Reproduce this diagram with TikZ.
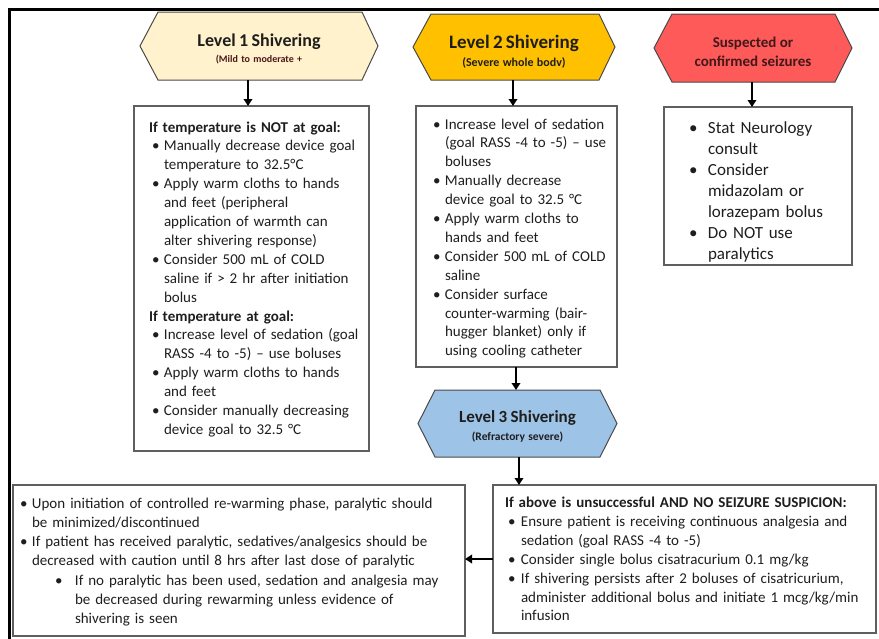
\documentclass[tikz,border=0pt]{standalone}
\usepackage{fontspec}
\setmainfont{Carlito}
\usetikzlibrary{arrows.meta}
\definecolor{lvlone}{HTML}{FFF2CC}
\definecolor{lvltwo}{HTML}{FFC000}
\definecolor{seiz}{HTML}{FF5A5A}
\definecolor{lvlthree}{HTML}{9DC3E6}
\definecolor{boxedge}{HTML}{5F5F5F}
\definecolor{hexedge}{HTML}{4A4A4A}
\definecolor{ink}{HTML}{1E1E1E}
\newcommand{\nl}{\newline}
\newcommand{\bl}[3]{\hangindent=\dimexpr#1+#2\relax\hangafter=1\noindent\hspace*{#1}\makebox[#2][l]{\textbullet}#3\par}
\newcommand{\hd}[1]{\noindent\textbf{#1}\par}
\newcommand{\hexdraw}[4]{\draw[hexline, fill=#2] (#1.west) -- ([xshift=#3]#1.north west) -- ([xshift=-#4]#1.north east) -- (#1.east) -- ([xshift=-#4]#1.south east) -- ([xshift=#3]#1.south west) -- cycle;}
\tikzset{
  hexholder/.style={inner sep=0pt, outer sep=0pt},
  hexline/.style={draw=hexedge, line width=1pt, line join=miter},
  boxnode/.style={draw=boxedge, line width=1.2pt, inner sep=0pt, outer sep=0pt, anchor=north west},
  txt/.style={inner sep=0pt, outer sep=0pt, anchor=base west, text=ink},
  lbl/.style={inner sep=0pt, outer sep=0pt, anchor=base, align=center, text=ink},
  arr/.style={line width=2pt, -{Triangle[length=7pt,width=8.5pt]}},
}
\begin{document}
\begin{tikzpicture}[x=1pt,y=-1pt]
\useasboundingbox (0,0) rectangle (879,638);
% outer frame
\draw[line width=2.5pt] (882,9.5) -- (9.5,9.5) -- (9.5,642);

% hexagon holders
\node[hexholder, minimum width=238pt, minimum height=68pt] (L1) at (259,46) {};
\node[hexholder, minimum width=202pt, minimum height=66pt] (L2) at (514,47) {};
\node[hexholder, minimum width=198pt, minimum height=68pt] (S) at (753,48) {};
\node[hexholder, minimum width=199pt, minimum height=67pt] (L3) at (517.5,423.5) {};
\hexdraw{L1}{lvlone}{18}{16}
\hexdraw{L2}{lvltwo}{18}{16}
\hexdraw{S}{seiz}{18}{17}
\hexdraw{L3}{lvlthree}{17}{17}

\node[lbl, text width=230pt] (L1t) at (259,46) {\fontsize{18}{20}\selectfont\bfseries Level 1 Shivering\par
  \fontsize{10}{16}\selectfont\bfseries\color{ink!80!red} (Mild to moderate +\par};
\node[lbl, text width=195pt] (L2t) at (514,48.5) {\fontsize{19}{20}\selectfont\bfseries Level 2 Shivering\par
  \fontsize{12}{17.5}\selectfont (Severe whole bodv)\par};
\node[lbl, text width=190pt] (St) at (753,47) {\fontsize{15}{19}\selectfont\bfseries\color{ink!85!red} Suspected or\par confirmed seizures\par};
\node[lbl, text width=190pt] (L3t) at (517.5,422) {\fontsize{17}{20}\selectfont\bfseries Level 3 Shivering\par
  \fontsize{11.5}{18}\selectfont (Refractory severe)\par};

% boxes
\node[boxnode, minimum width=235pt, minimum height=345pt] (B1) at (134,106) {};
\node[boxnode, minimum width=201pt, minimum height=261pt] (B2) at (416,106) {};
\node[boxnode, minimum width=188pt, minimum height=158pt] (B3) at (664,107) {};
\node[boxnode, minimum width=383pt, minimum height=148pt] (B4) at (493,485) {};
\node[boxnode, minimum width=452pt, minimum height=151pt] (B5) at (13,485) {};

\node[txt, text width=218pt, font=\fontsize{15}{18.9}\selectfont] (B1t) at (149,132) {\raggedright
\hd{If temperature is NOT at goal:}
\bl{3pt}{12pt}{Manually decrease device goal\nl temperature to 32.5°C}
\bl{3pt}{12pt}{Apply warm cloths to hands\nl and feet (peripheral\nl application of warmth can\nl alter shivering response)}
\bl{3pt}{12pt}{Consider 500 mL of COLD\nl saline if > 2 hr after initiation\nl bolus}
\hd{If temperature at goal:}
\bl{3pt}{12pt}{Increase level of sedation (goal\nl RASS -4 to -5) – use boluses}
\bl{3pt}{12pt}{Apply warm cloths to hands\nl and feet}
\bl{3pt}{12pt}{Consider manually decreasing\nl device goal to 32.5 °C}};

\node[txt, text width=182pt, font=\fontsize{15}{18.9}\selectfont] (B2t) at (433,129) {\raggedright
\bl{0pt}{12pt}{Increase level of sedation\nl (goal RASS -4 to -5) – use\nl boluses}
\bl{0pt}{12pt}{Manually decrease\nl device goal to 32.5 °C}
\bl{0pt}{12pt}{Apply warm cloths to\nl hands and feet}
\bl{0pt}{12pt}{Consider 500 mL of COLD\nl saline}
\bl{0pt}{12pt}{Consider surface\nl counter-warming (bair-\nl hugger blanket) only if\nl using cooling catheter}};

\node[txt, text width=160pt, font=\fontsize{17}{21}\selectfont] (B3t) at (689,133) {\raggedright
\bl{0pt}{19pt}{Stat Neurology\nl consult}
\bl{0pt}{19pt}{Consider\nl midazolam or\nl lorazepam bolus}
\bl{0pt}{19pt}{Do NOT use\nl paralytics}};

\node[txt, text width=368pt, font=\fontsize{15}{18.9}\selectfont] (B4t) at (505,507.5) {\raggedright
\hd{If above is unsuccessful AND NO SEIZURE SUSPICION:}
\bl{3pt}{13pt}{Ensure patient is receiving continuous analgesia and\nl sedation (goal RASS -4 to -5)}
\bl{3pt}{13pt}{Consider single bolus cisatracurium 0.1 mg/kg}
\bl{3pt}{13pt}{If shivering persists after 2 boluses of cisatricurium,\nl administer additional bolus and initiate 1 mcg/kg/min\nl infusion}};

\node[txt, text width=440pt, font=\fontsize{15}{19.3}\selectfont] (B5t) at (20,508) {\raggedright
\bl{0pt}{12pt}{Upon initiation of controlled re-warming phase, paralytic should\nl be minimized/discontinued}
\bl{0pt}{12pt}{If patient has received paralytic, sedatives/analgesics should be\nl decreased with caution until 8 hrs after last dose of paralytic}
\bl{35pt}{20pt}{If no paralytic has been used, sedation and analgesia may\nl be decreased during rewarming unless evidence of\nl shivering is seen}};

% connectors
\draw[arr] ([xshift=-11pt]L1.south) -- ([xshift=-11pt]L1.south |- B1.north);
\draw[arr] ([xshift=-1pt]L2.south) -- ([xshift=-1pt]L2.south |- B2.north);
\draw[arr] ([xshift=-1pt]S.south) -- ([xshift=-1pt]S.south |- B3.north);
\draw[arr] ([xshift=-0.5pt]B2.south) -- ([xshift=-0.5pt]B2.south |- L3.north);
\draw[arr] ([xshift=1.5pt]L3.south) -- ([xshift=1.5pt]L3.south |- B4.north);
\draw[arr] (B4.west) -- (B4.west -| B5.east);
\end{tikzpicture}
\end{document}
